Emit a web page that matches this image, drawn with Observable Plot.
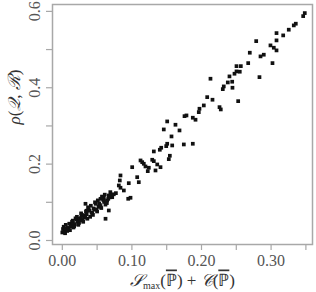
<!DOCTYPE html>
<html><head><meta charset="utf-8">
<script src="https://cdn.jsdelivr.net/npm/d3@7"></script>
<script src="https://cdn.jsdelivr.net/npm/@observablehq/plot@0.6"></script>
<style>body{margin:0;background:#fff}</style>
</head><body><div id="chart"></div>
<script>
const xs = [
0.3484,0.3461,0.3355,0.3326,0.3254,0.3174,0.3078,0.3078,0.2991,0.3039,0.3078,0.2786,0.2694,0.2895,0.2848,0.3020,0.2671,0.2565,0.2503,0.2503,0.2550,0.2474,0.2833,0.2402,0.2129,0.2441,0.2378,0.2320,0.2306,0.2445,0.2082,0.2158,0.2527,0.2033,0.1971,0.1961,0.2259,0.2277,0.1784,0.1756,0.1875,0.1914,0.1507,0.1626,0.1458,0.1684,0.1569,0.1507,0.1493,0.1579,0.1746,0.1875,0.1421,0.1401,0.1315,0.1545,0.1530,0.1292,0.1315,0.1124,0.1148,0.1171,0.1364,0.1004,0.1411,0.1243,0.1228,0.1339,0.1195,0.0836,0.0826,0.1076,0.1099,0.0955,0.0812,0.0836,0.0884,0.0980,0.0947,0.0333,0.0668,0.0621,
0.0690,0.0668,0.0717,0.0596,0.0549,0.0645,
0.000,0.001,0.003,0.002,0.004,0.006,0.005,0.008,0.007,0.010,
0.009,0.012,0.011,0.014,0.013,0.016,0.015,0.018,0.020,0.017,
0.022,0.019,0.024,0.021,0.026,0.023,0.028,0.025,0.030,0.027,
0.032,0.029,0.034,0.031,0.036,0.033,0.038,0.035,0.040,0.037,
0.042,0.039,0.044,0.041,0.046,0.043,0.048,0.045,0.050,0.047,
0.052,0.049,0.054,0.051,0.056,0.053,0.058,0.055,0.060,0.057,
0.062,0.059,0.064,0.061,0.066,0.063,0.068,0.071,0.074,0.077,
0.004,0.015,0.027,0.035
];
const ys = [
0.5955,0.5876,0.5677,0.5633,0.5520,0.5371,0.5431,0.5240,0.5109,0.5048,0.4978,0.5221,0.4917,0.4865,0.4821,0.4645,0.4645,0.4566,0.4566,0.4428,0.4420,0.4367,0.4278,0.4297,0.4236,0.4158,0.4139,0.4035,0.3964,0.4000,0.3754,0.3686,0.3649,0.3537,0.3450,0.3361,0.3492,0.3432,0.3275,0.3256,0.3215,0.3162,0.3118,0.3031,0.2908,0.2882,0.2725,0.2533,0.2471,0.2489,0.2515,0.2533,0.2429,0.2376,0.2332,0.2219,0.2130,0.2114,0.2078,0.2096,0.2051,0.2009,0.1991,0.1920,0.1920,0.1905,0.1816,0.1834,0.1939,0.1703,0.1572,0.1658,0.1527,0.1501,0.1441,0.1381,0.1310,0.1119,0.1092,0.0961,0.0786,0.0569,
0.1266,0.1179,0.1134,0.1134,0.1092,0.1048,
0.021,0.030,0.024,0.036,0.019,0.028,0.041,0.033,0.025,0.044,
0.031,0.037,0.027,0.049,0.040,0.034,0.046,0.043,0.055,0.037,
0.050,0.058,0.046,0.062,0.053,0.041,0.067,0.057,0.049,0.071,
0.060,0.053,0.076,0.066,0.057,0.064,0.082,0.069,0.062,0.087,
0.073,0.078,0.067,0.091,0.081,0.072,0.096,0.084,0.076,0.100,
0.088,0.081,0.093,0.105,0.085,0.097,0.110,0.090,0.101,0.115,
0.094,0.106,0.098,0.120,0.109,0.103,0.113,0.118,0.121,0.124,
0.031,0.052,0.060,0.078
];
const xTicks = [0, 0.05, 0.10, 0.15, 0.20, 0.25, 0.30, 0.35];
const xLabeled = [0, 0.10, 0.20, 0.30];
const yTicks = [0, 0.1, 0.2, 0.3, 0.4, 0.5, 0.6];
const yLabeled = [0, 0.2, 0.4, 0.6];

const data = xs.map((x, i) => ({x, y: ys[i]}));
const near = (v, arr) => arr.some(a => Math.abs(a - v) < 1e-9);

const chart = Plot.plot({
  width: 316, height: 292,
  marginLeft: 52, marginRight: 4, marginTop: 4, marginBottom: 48,
  style: {fontFamily: "'Liberation Serif', serif", fontSize: "16px", background: "#fff"},
  x: {domain: [-0.0141, 0.3595]},
  y: {domain: [-0.0105, 0.618]},
  marks: [
    Plot.frame({stroke: "#a8a8a8", strokeWidth: 1.5}),
    Plot.axisX({ticks: xTicks, tickSize: 6, stroke: "#a8a8a8", strokeWidth: 1.2, tickPadding: 4, fill: "#555",
      tickFormat: d => near(d, xLabeled) ? d3.format(".2f")(d) : "", label: null}),
    Plot.axisY({ticks: yTicks, tickSize: 6, stroke: "#a8a8a8", strokeWidth: 1.2, tickRotate: -90, tickPadding: 7, fill: "#555",
      tickFormat: d => near(d, yLabeled) ? d3.format(".1f")(d) : "", label: null}),
    Plot.dot(data, {x: "x", y: "y", symbol: "square", r: 2.1, fill: "#111", stroke: "none"}),
    Plot.text(["XLABEL"], {frameAnchor: "bottom", dy: 41, text: d => d, fontSize: 17, fill: "#333"}),
    Plot.text(["YLABEL"], {frameAnchor: "left", dx: -38, rotate: -90, text: d => d, fontSize: 17, fill: "#333"})
  ]
});
const add = (t, s, o = {}) => { const ts = document.createElementNS("http://www.w3.org/2000/svg", "tspan"); ts.textContent = s; for (const k in o) ts.setAttribute(k, o[k]); t.appendChild(ts); return ts; };
chart.querySelectorAll("text").forEach(t => {
  if (t.textContent === "XLABEL") {
    t.textContent = "";
    add(t, "𝒮", {"font-style": "italic"});
    add(t, "max", {"font-size": "10", "dy": "3"});
    add(t, "(", {"dy": "-3"});
    add(t, "ℙ", {"style": "text-decoration: overline"});
    add(t, ") + ");
    add(t, "𝒞", {"font-style": "italic"});
    add(t, "(");
    add(t, "ℙ", {"style": "text-decoration: overline"});
    add(t, ")");
  } else if (t.textContent === "YLABEL") {
    t.textContent = "";
    add(t, "ρ", {"font-style": "italic"});
    add(t, "(");
    add(t, "𝒬", {"font-style": "italic"});
    add(t, ", ");
    add(t, "ℛ", {"font-style": "italic"});
    add(t, ")");
  }
});
document.getElementById("chart").appendChild(chart);
</script>
</body></html>
